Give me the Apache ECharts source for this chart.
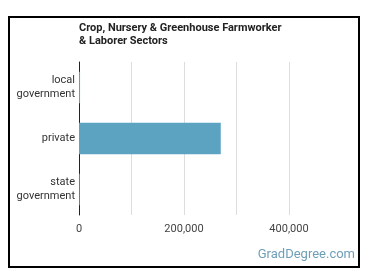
<!DOCTYPE html>
<html>
<head>
	<meta charset="utf-8">
	<title>Farmworker Sectors</title>
</head>
<body style="margin:0;background:#fff;">
<script type="text/javascript" src="https://cdn.jsdelivr.net/npm/echarts@6/dist/echarts.min.js"></script>
<div id="container" style="width: 370px;height: 278px;"></div>
<script type="text/javascript">
	// 类别与数值
	var sectors = ['local\ngovernment', 'private', 'state\ngovernment'];
	var workers = [2000, 270000, 1500];
	var xTicks = [0, 200000, 400000];

	var myChart = echarts.init(document.getElementById('container'));
	var option = {
		animation: false,
		backgroundColor: '#fff',
		title: {
			text: 'Crop, Nursery & Greenhouse Farmworker\n& Laborer Sectors',
			left: 79,
			top: 21,
			padding: 0,
			textStyle: { fontFamily: 'Roboto', fontSize: 11, fontWeight: 'bold', color: '#222', lineHeight: 13.5 }
		},
		graphic: [{
			// 外框
			type: 'rect',
			shape: { x: 9, y: 17, width: 350, height: 250 },
			style: { fill: 'none', stroke: '#000', lineWidth: 2 },
			silent: true
		}, {
			type: 'text',
			right: 15,
			top: 248,
			style: { text: 'GradDegree.com', fontFamily: 'Roboto', fontSize: 13, fill: '#6e9fb8' }
		}],
		grid: { left: 79, right: 81, top: 62, bottom: 63 },
		xAxis: {
			type: 'value',
			min: 0,
			max: 400000,
			interval: 100000,
			axisLine: { show: false },
			axisTick: { show: false },
			splitLine: { lineStyle: { color: '#ddd' } },
			axisLabel: {
				fontFamily: 'Roboto', fontSize: 11, color: '#444', margin: 9,
				formatter: function (v) {
					return xTicks.indexOf(v) >= 0 ? v.toLocaleString('en-US') : '';
				}
			}
		},
		yAxis: {
			type: 'category',
			inverse: true,
			data: sectors,
			axisLine: { lineStyle: { color: '#222' } },
			axisTick: { show: false },
			axisLabel: { fontFamily: 'Roboto', fontSize: 11, color: '#333', margin: 4, lineHeight: 14 }
		},
		series: [{
			type: 'bar',
			data: workers,
			barWidth: '62%',
			itemStyle: { color: '#5ba3c1' }
		}]
	};
	myChart.setOption(option);
</script>
</body>
</html>
